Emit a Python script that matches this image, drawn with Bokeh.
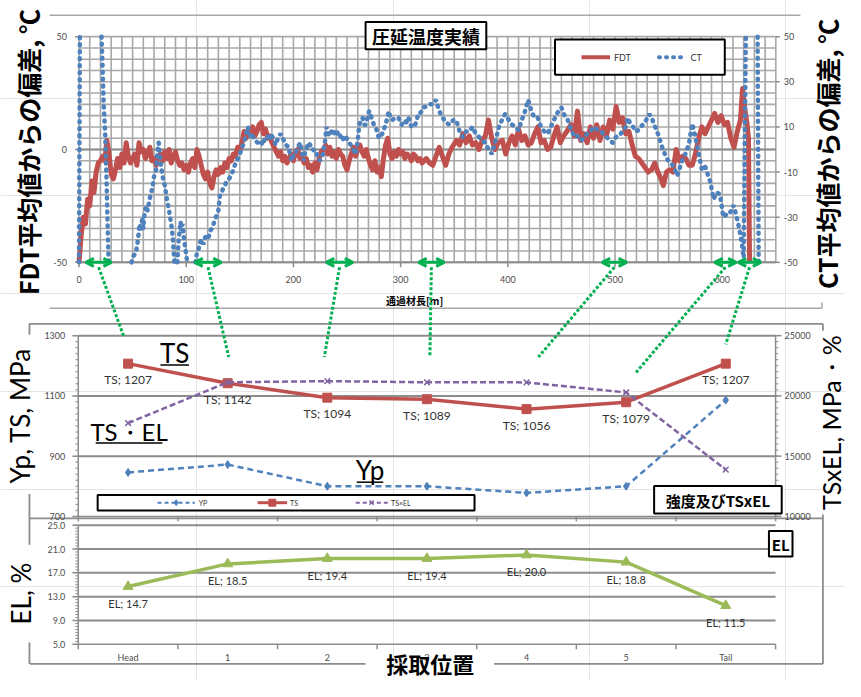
import math
from bokeh.plotting import figure
from bokeh.models import Range1d, Arrow, OpenHead
from bokeh.core.properties import value
from bokeh.embed import file_html
from bokeh.resources import INLINE

NaN = float("nan")

# ---------------- data ----------------
FDT_M = [0, 2, 4, 6, 8, 10, 12, 14, 16, 18, 20, 22, 24, 26, 28, 30, 32, 34, 36, 38, 40, 42, 44, 46, 48,
         50, 52, 54, 56, 58, 60, 62, 64, 66, 68, 70, 72, 74, 76, 78, 80, 82, 84, 86, 88, 90, 92, 94, 96, 98,
         100, 102, 104, 106, 108, 110, 112, 114, 116, 118, 120, 122, 124, 126, 128, 130, 132, 134, 136, 138,
         140, 142, 144, 146, 148, 150, 152, 154, 156, 158, 160, 162, 164, 166, 168, 170, 172, 174, 176, 178,
         180, 182, 184, 186, 188, 190, 192, 194, 196, 198, 200, 202, 204, 206, 208, 210, 212, 214, 216, 218,
         220, 222, 224, 226, 228, 230, 232, 234, 236, 238, 240, 242, 244, 246, 248, 250, 252, 254, 256, 258,
         260, 262, 264, 266, 268, 270, 272, 274, 276, 278, 280, 282, 284, 286, 288, 290, 292, 294, 296, 298,
         300, 302, 304, 306, 308, 310, 312, 314, 316, 318, 320,
         322, 324, 327, 330, 333, 336, 339, 342, 345, 348, 352, 355, 358, 361, 364, 367, 370, 373, 376, 379,
         382, 385, 388, 391, 395, 398, 401, 404, 407, 410, 413, 416, 419, 422, 425, 428, 431, 434, 437, 440,
         443, 446, 449, 452, 455, 459, 462, 465, 468, 471, 474, 477, 480, 483, 486, 489, 492, 495, 498, 501,
         504, 507, 510, 513, 516, 519, 522, 525, 528, 531, 534, 537, 540, 543, 545, 548, 551, 554, 557, 560,
         563, 566, 569, 572, 575, 578, 581, 584, 587, 590, 593, 596, 599, 602, 605, 608, 611, 614, 617, 619,
         621, 623, 624.5, 625.5]
FDT_V = [-50, -38, -30, -33, -22, -25, -14, -19, -10, -6, -5, -3, -5, 4, -2, -11, -13, -9, -4, -8, -2, -6, 3, -3, -6,
         -4, -2, -7, 3, -1, 0, -4, -2, 1, -5, -4, -7, -3, -2, -5, -1, -4, 0, -6, -3, -1, -5, -7, -6, -9,
         -7, -10, -6, -4, -8, 0, -3, -7, -11, -13, -10, -15, -17, -12, -9, -11, -8, -10, -6, -8,
         -4, -5, -2, -3, 1, 0, 3, 8, 5, 9, 7, 10, 6, 8, 11, 12, 7, 9, 5, 6,
         3, 1, -1, -3, -1, -5, -3, -6, -4, -2, -5, -1, 0, -4, -3, -6, -4, -8, -7, -10,
         -6, -9, -4, -1, 0, 2, -2, 1, -3, -1, -4, 0, -2, -3, -7, -9, -5, -2, 1, -3,
         0, 2, -1, -3, 0, -4, -7, -9, -5, -10, -8, -12, -4, 2, 5, -2, -4, -1, -3, 0,
         -2, -1, -4, -2, -3, -5, -2, -3, -5, -4, -6,
         -5, -4, -6, -7, -3, 1, -3, -7, -2, 1, 4, 2, 7, 3, 6, 2, 3, 0, 4, 6,
         13, 5, 0, 3, 4, -2, 3, 6, 2, 9, 4, 6, 2, 3, 7, 10, 3, 4, 0, 1,
         6, 10, 3, 6, 8, 11, 6, 17, 4, 7, 3, 10, 5, 11, 4, 10, 6, 13, 9, 19,
         12, 14, 7, 8, 2, -3, -4, -6, -8, -10, -9, -6, -10, -13, -16, -10, -9, -10, 0, -5,
         -3, -4, -7, -7, -2, 5, 10, 7, 10, 13, 16, 12, 15, 11, 12, 5, 1, 8, 13, 27,
         18, 12, 5, -50]

CT_M = [0, 0.8, NaN,
        21, 22, 23, 24.5, 25.5, 26.5, 27.5, 28, NaN,
        49, 51, 53, 55, 56.5, 58, 59, 60, 61, 62.7, 64, 65.8, 67, 68.8, 70, 71.9, 73, 74.3, 75.5, 76.5,
        78, 80, 82, 84, 86, 87.5, 88.7, 89, NaN,
        91.7, 93, 94.8, 95.5, 96.5, 98, 99.5, 101, NaN,
        108.6, 110, 111.6, 113, 114.7, 116, 117.7, 119, 120.8, 122.3, 123.9, 125.5, 126.9, 128.5, 130,
        131.5, 133, 134.6, 136, 137.6, 140, 142.2, 144, 145.3, 147, 148.3, 150, 151.4, 153, 154.4, 156,
        157.5, 159, 160.5, 162, 164, 166.7, 169, 171.3, 173.5, 175.8, 177.5, 178.9, 181, 183.5, 185.5,
        188, 190, 191, 193, 195.7, 197, 198.8, 200.3, 201.8, 204, 206.4, 208, 209.5, 211, 212.5, 214,
        215.6, 217, 218.7, 220, 221.7, 223, 224.8, 226, 227.8, 229.5, 230.9, 232.5, 234, 235.5, 237,
        238.5, 240, 241.5, 243, 244.5, 246, 247.5, 249, 250.5, 252, 253.5, 255, 256.5, 258, 260, 261.5,
        263, 264.5, 266, 267.6, 269, 270.6, 272, 273.7, 275, 276.8, 278.5, 279.8, 281.5, 282.9, 284.5,
        286, 287.5, 289, 290.5, 292, 295, 298, 301, 302.5, 304, 305.5, 307, 308.5, 310, 311.5, 313.5,
        315, 316.5, 318, 319.6, 321, 324, 327, 330, 333, 336, 339.5, 342, 345.6, 349, 352, 355, 358,
        361, 364, 367, 370, 373, 376, 379, 382, 385, 388, 391.7, 394.5, 397.5, 401, 404, 407, 410, 413,
        416, 419, 422, 425, 428, 431, 434, 437, 440, 443, 446, 450, 453, 456, 459, 462, 465, 468, 471,
        474, 477, 480, 483, 486, 489, 492, 495, 498, 501, 504, 507.6, 510, 512, 514.5, 517, 519, 521.6,
        524, 526, 529, 532, 535, 537.5, 540, 542, 544, 546.5, 549, 551.5, 554, 556, 558, 560.5, 563,
        566, 569, 572, 575, 578, 581, 584, 586.5, 589, 592, 595, 598, 601, 603.5, 606, 608.5, 610.6,
        613, 615, 618, 620, 622, NaN,
        633, 634]
CT_V = [-50, 50, NaN,
        50, 36, 20, 6, -10, -30, -48, -50, NaN,
        -50, -47, -46, -40, -33, -36, -30, -35, -29, -25, -27, -22, -20, -16, -12, -9, -2, 3, -3, -7,
        -12, -16, -22, -27, -33, -39, -48, -50, NaN,
        -50, -40, -32, -36, -33, -40, -45, -50, NaN,
        -50, -46, -44, -41, -40, -42, -39, -38, -39, -36, -35, -33, -31, -29, -27,
        -20, -19, -17, -16, -14, -13, -11, -9, -7, -5, -4, -2, 0, 2, 4, 7,
        10, 7, 5, 6, 4, 3, 4, 2, 5, 6, 4, 7, 5, 2, 5,
        7, 5, 4, 2, 1, -3, -5, -2, -2, 1, 3, -1, -5, -1, 1, 3,
        2, 0, 0, -2, -2, -4, -5, -3, -2, 4, 10, 7, 6, 8, 9,
        7, 6, 8, 7, 5, 4, 6, 6, 4, 3, 2, 1, -1, -2, 4, 11,
        13, 14, 11, 11, 14, 17, 15, 13, 11, 10, 7, 5, 6, 7, 9,
        11, 14, 17, 14, 13, 14, 14, 11, 12, 13, 12, 14, 13, 10, 11, 11,
        13, 16, 16, 17, 18.6, 19, 20, 20, 22, 17, 14, 12, 11, 13, 13, 8, 5.6,
        8, 8, 10, 7, 5.6, 4, 3, 0, -2, 3, 10, 13, 15.7, 13, 11, 10, 8.5, 13,
        17, 22, 17, 14, 14, 10, 8, 7, 10, 13, 16, 18.6, 15, 13, 9, 5.6, 6, 4, 5,
        7, 8, 10, 9, 8.5, 7, 5.6, 4, 3, 5.6, 6, 8.5, 10, 14, 11, 10, 8, 8.5,
        10, 11, 13, 15.7, 13, 10, 7, 4, 1, -2, -4.5, -6, -7, -9, -11.7, -8, -4.5,
        -1.6, 2.7, 11.4, 5.6, -1.6, -8.8, -7.4, -11, -14.5, -22, -19, -20, -30, -29, -29, -27, -24.7,
        -29, -33, -40.5, -48, 50, NaN,
        50, -50]

SAMPLE_START = [6.4, 108, 230.7, 316.8, 488, 593, 615]      # sampling zones on the strip, m
SAMPLE_END = [30.2, 132.7, 255.4, 340.6, 510.8, 613, 636]

CATEGORIES = ["Head", "1", "2", "3", "4", "5", "Tail"]
YP = [846, 872, 800, 800, 778, 800, 1086]
TS = [1207, 1142, 1094, 1089, 1056, 1079, 1207]
TSEL = [17743, 21127, 21224, 21127, 21120, 20285, 13881]
EL = [14.7, 18.5, 19.4, 19.4, 20.0, 18.8, 11.5]

TOP_LEFT_TICKS = [50, 0, -50]
TOP_RIGHT_TICKS = [50, 30, 10, -10, -30, -50]
TOP_X_TICKS = [0, 100, 200, 300, 400, 500, 600]
MPA_TICKS = [1300, 1100, 900, 700]
TSEL_TICKS = [25000, 20000, 15000, 10000]
EL_TICKS = [25.0, 21.0, 17.0, 13.0, 9.0, 5.0]

# ---------------- layout (reference pixel frame, scaled to the canvas) ----------------
W, H = 845, 681
XL, XR = 0, 861
YB, YT = 697, 0

RED = "#c0504d"
BLUE = "#4f81bd"
GREEN = "#9bbb59"
PURPLE = "#8064a2"
CONN = "#00b050"
GRID = "#a8a8a8"
AXIS = "#8c8c8c"
TICKC = "#4d4d4d"
LAT = value("Lato")
JP = value("Noto Sans CJK JP")


def lin_range(va, pa, vb, pb, plo, phi):
    k = (vb - va) / (pb - pa)
    return Range1d(start=va + (plo - pa) * k, end=va + (phi - pa) * k)


p = figure(width=W, height=H, x_range=Range1d(XL, XR), y_range=Range1d(YB, YT),
           x_axis_location=None, y_axis_location=None, toolbar_location=None,
           output_backend="svg", min_border=0, title=None)
p.outline_line_color = None
p.background_fill_color = "white"
p.border_fill_color = "white"

# panel geometry in reference pixels
LEN_PX = (80, 790)      # 0 m .. 650 m
DEV_PX = (37, 268)      # +50 .. -50
CAT_PX = (130, 739)     # Head .. Tail
MPA_PX = (343, 528)     # 1300 .. 700
EL_PX = (537, 659)      # 25 .. 5

p.extra_x_ranges = {
    "len": lin_range(0, LEN_PX[0], 650, LEN_PX[1], XL, XR),
    "cat": lin_range(0, CAT_PX[0], 6, CAT_PX[1], XL, XR),
}
p.extra_y_ranges = {
    "dev": lin_range(50, DEV_PX[0], -50, DEV_PX[1], YB, YT),
    "mpa": lin_range(1300, MPA_PX[0], 700, MPA_PX[1], YB, YT),
    "tsel": lin_range(25000, MPA_PX[0], 10000, MPA_PX[1], YB, YT),
    "el": lin_range(25, EL_PX[0], 5, EL_PX[1], YB, YT),
}

KLEN = (LEN_PX[1] - LEN_PX[0]) / 650.0
KDEV = (DEV_PX[1] - DEV_PX[0]) / 100.0
KCAT = (CAT_PX[1] - CAT_PX[0]) / 6.0
KMPA = (MPA_PX[1] - MPA_PX[0]) / 600.0
KTSE = (MPA_PX[1] - MPA_PX[0]) / 15000.0
KEL = (EL_PX[1] - EL_PX[0]) / 20.0


def px_len(m):
    return LEN_PX[0] + m * KLEN


def px_cat(i):
    return CAT_PX[0] + i * KCAT


def py_mpa(v):
    return MPA_PX[0] + (1300 - v) * KMPA


def txt(x, y, s, size, font=LAT, style="normal", color="black", align="center",
        baseline="middle", angle=0.0):
    p.text(x=[x], y=[y], text=[s], text_font=font, text_font_size=size,
           text_font_style=style, text_color=color, text_align=align,
           text_baseline=baseline, angle=angle)


# ---------------- outer borders ----------------
p.segment(x0=[50, 50, 837], y0=[15, 315, 309], x1=[815, 837, 837], y1=[15, 315, 315],
          line_color=GRID, line_width=1.5)
p.segment(x0=[29, 29.5, 29.5, 29.5, 838, 838, 30, 30, 503],
          y0=[331, 331, 505, 657, 331, 526, 530, 679, 679],
          x1=[838, 29.5, 29.5, 29.5, 838, 838, 838, 372, 838],
          y1=[331, 342, 557, 679, 338, 679, 530, 679, 679],
          line_color=AXIS, line_width=1.8)

# ---------------- top panel: grid ----------------
TR = dict(x_range_name="len", y_range_name="dev")
gx = [10 * i for i in range(66)]
p.segment(x0=gx, x1=gx, y0=[-50] * len(gx), y1=[50] * len(gx), line_color=GRID, line_width=1.6, **TR)
gy = [-50 + 5 * i for i in range(21)]
p.segment(x0=[0] * len(gy), x1=[650] * len(gy), y0=gy, y1=gy, line_color=GRID, line_width=1.6, **TR)
p.segment(x0=[0, 0], x1=[650, 650], y0=[0, -50], y1=[0, -50], line_color=AXIS, line_width=2, **TR)
# ticks
p.segment(x0=TOP_X_TICKS, x1=TOP_X_TICKS, y0=[-50] * 7, y1=[-50 - 5 / KDEV] * 7,
          line_color=AXIS, line_width=1.5, **TR)
p.segment(x0=[0] * 3, x1=[-4 / KLEN] * 3, y0=TOP_LEFT_TICKS, y1=TOP_LEFT_TICKS,
          line_color=AXIS, line_width=1.5, **TR)
p.segment(x0=[650] * 6, x1=[650 + 4 / KLEN] * 6, y0=TOP_RIGHT_TICKS, y1=TOP_RIGHT_TICKS,
          line_color=AXIS, line_width=1.5, **TR)
p.text(x=[0] * 3, y=TOP_LEFT_TICKS, text=[str(v) for v in TOP_LEFT_TICKS], x_offset=-12,
       text_align="right", text_baseline="middle", text_font=LAT, text_font_size="9px",
       text_color=TICKC, **TR)
p.text(x=[650] * 6, y=TOP_RIGHT_TICKS, text=[str(v) for v in TOP_RIGHT_TICKS], x_offset=8,
       text_align="left", text_baseline="middle", text_font=LAT, text_font_size="9px",
       text_color=TICKC, **TR)
p.text(x=TOP_X_TICKS, y=[-50] * 7, text=[str(v) for v in TOP_X_TICKS], y_offset=17,
       text_align="center", text_baseline="middle", text_font=LAT, text_font_size="9px",
       text_color=TICKC, **TR)

# series
p.line(FDT_M, FDT_V, line_color=RED, line_width=5, line_join="round", **TR)
p.line(CT_M, CT_V, line_color=BLUE, line_width=4.5, line_dash="1 6", line_cap="round", **TR)

# sample arrows
for a, b in zip(SAMPLE_START, SAMPLE_END):
    p.add_layout(Arrow(x_start=a, y_start=-50, x_end=b, y_end=-50,
                       start=OpenHead(size=8, line_color=CONN, line_width=3),
                       end=OpenHead(size=8, line_color=CONN, line_width=3),
                       line_color=CONN, line_width=3, **TR))

# title and legend of the top panel
p.quad(left=[372], right=[495], top=[22], bottom=[50], fill_color="white", line_color="black", line_width=2)
txt(433.5, 36.5, "圧延温度実績", "18px", font=JP, style="bold")
p.quad(left=[565], right=[738], top=[40], bottom=[76], fill_color="white", line_color="black", line_width=2)
p.line([592, 621], [58, 58], line_color=RED, line_width=4)
txt(625, 58, "FDT", "9px", align="left", color="#333333")
p.line([671, 698], [58, 58], line_color=BLUE, line_width=4, line_dash="1 6", line_cap="round")
txt(703, 58, "CT", "9px", align="left", color="#333333")

txt(422, 307, "通過材長[m]", "10px", font=JP, style="bold")
txt(28, 155, "FDT平均値からの偏差, ℃", "25px", font=JP, style="bold", angle=math.pi / 2)
txt(842, 157, "CT平均値からの偏差, ℃", "25px", font=JP, style="bold", angle=math.pi / 2)

# ---------------- middle panel ----------------
MR = dict(x_range_name="cat", y_range_name="mpa")
SR = dict(x_range_name="cat", y_range_name="tsel")
p.segment(x0=[-0.5] * 3, x1=[6.5] * 3, y0=MPA_TICKS[:3], y1=MPA_TICKS[:3], line_color=AXIS,
          line_width=2, **MR)
p.segment(x0=[-0.5, -0.5, 6.5], x1=[6.5, -0.5, 6.5], y0=[700, 700, 700], y1=[700, 1300, 1300],
          line_color=AXIS, line_width=1.5, **MR)
minor_mpa = [700 + 20 * i for i in range(31)]
p.segment(x0=[-0.5] * 31, x1=[-0.5 - 3 / KCAT] * 31, y0=minor_mpa, y1=minor_mpa, line_color=AXIS,
          line_width=1, **MR)
p.segment(x0=[-0.5] * 4, x1=[-0.5 - 6 / KCAT] * 4, y0=MPA_TICKS, y1=MPA_TICKS, line_color=AXIS,
          line_width=1.5, **MR)
minor_tse = [10000 + 500 * i for i in range(31)]
p.segment(x0=[6.5] * 31, x1=[6.5 + 3 / KCAT] * 31, y0=minor_tse, y1=minor_tse, line_color=AXIS,
          line_width=1, **SR)
p.segment(x0=[6.5] * 4, x1=[6.5 + 6 / KCAT] * 4, y0=TSEL_TICKS, y1=TSEL_TICKS, line_color=AXIS,
          line_width=1.5, **SR)
bnd = [i - 0.5 for i in range(8)]
p.segment(x0=bnd, x1=bnd, y0=[700] * 8, y1=[700 - 5 / KMPA] * 8, line_color=AXIS, line_width=1.5, **MR)
p.text(x=[-0.5] * 4, y=MPA_TICKS, text=[str(v) for v in MPA_TICKS], x_offset=-13, text_align="right",
       text_baseline="middle", text_font=LAT, text_font_size="9px", text_color=TICKC, **MR)
p.text(x=[6.5] * 4, y=TSEL_TICKS, text=[str(v) for v in TSEL_TICKS], x_offset=9, text_align="left",
       text_baseline="middle", text_font=LAT, text_font_size="9px", text_color=TICKC, **SR)

xs = list(range(7))
p.line(xs, YP, line_color=BLUE, line_width=2.5, line_dash="6 4", **MR)
p.scatter(xs, YP, marker="diamond", size=8, fill_color=BLUE, line_color=BLUE, **MR)
p.line(xs, TS, line_color=RED, line_width=3.5, **MR)
p.scatter(xs, TS, marker="square", size=9, fill_color=RED, line_color=RED, **MR)
p.line(xs, TSEL, line_color=PURPLE, line_width=2.5, line_dash="6 3", **SR)
p.scatter(xs, TSEL, marker="x", size=8, line_color=PURPLE, line_width=1.5, **SR)
p.text(x=xs, y=TS, text=["TS; %d" % v for v in TS], y_offset=16, text_align="center",
       text_baseline="middle", text_font=LAT, text_font_size="12px", text_color="#333333", **MR)

# annotations in middle panel
txt(177.5, 361, "TS", "26px")
txt(131, 441, "TS・EL", "24px")
txt(376.5, 481, "Yp", "26px")
p.segment(x0=[163, 97, 363], x1=[192, 165, 390], y0=[373, 453, 493], y1=[373, 453, 493],
          line_color="black", line_width=1.5)

p.quad(left=[99], right=[483], top=[506], bottom=[522], fill_color="white", line_color="black", line_width=2)
p.line([160, 198], [514, 514], line_color=BLUE, line_width=2, line_dash="4 3")
p.scatter([179], [514], marker="diamond", size=6, fill_color=BLUE, line_color=BLUE)
txt(202, 514, "YP", "7px", align="left", color="#333333")
p.line([262, 292], [514, 514], line_color=RED, line_width=3)
p.scatter([277], [514], marker="square", size=7, fill_color=RED, line_color=RED)
txt(295, 514, "TS", "7px", align="left", color="#333333")
p.line([362, 395], [514, 514], line_color=PURPLE, line_width=2, line_dash="4 3")
p.scatter([378], [514], marker="x", size=6, line_color=PURPLE, line_width=1.5)
txt(398, 514, "TS×EL", "7px", align="left", color="#333333")

p.quad(left=[666], right=[796], top=[497], bottom=[525], fill_color="white", line_color="black", line_width=2)
txt(731, 511.5, "強度及びTSxEL", "15px", font=JP, style="bold")

txt(20, 425, "Yp, TS, MPa", "26px", angle=math.pi / 2)
txt(846, 432, "TSxEL, MPa・%", "25px", angle=math.pi / 2)

# ---------------- bottom panel ----------------
ER = dict(x_range_name="cat", y_range_name="el")
p.segment(x0=[-0.5] * 5, x1=[6.5] * 5, y0=EL_TICKS[:5], y1=EL_TICKS[:5], line_color=AXIS, line_width=2, **ER)
p.segment(x0=[-0.5, -0.5], x1=[6.5, -0.5], y0=[5, 5], y1=[5, 25], line_color=AXIS, line_width=1.5, **ER)
minor_el = [5 + 0.5 * i for i in range(41)]
p.segment(x0=[-0.5] * 41, x1=[-0.5 - 3 / KCAT] * 41, y0=minor_el, y1=minor_el, line_color=AXIS,
          line_width=1, **ER)
p.segment(x0=[-0.5] * 6, x1=[-0.5 - 6 / KCAT] * 6, y0=EL_TICKS, y1=EL_TICKS, line_color=AXIS,
          line_width=1.5, **ER)
p.segment(x0=bnd, x1=bnd, y0=[5] * 8, y1=[5 - 5 / KEL] * 8, line_color=AXIS, line_width=1.5, **ER)
p.text(x=[-0.5] * 6, y=EL_TICKS, text=["%.1f" % v for v in EL_TICKS], x_offset=-13, text_align="right",
       text_baseline="middle", text_font=LAT, text_font_size="9px", text_color=TICKC, **ER)
p.text(x=xs, y=[5] * 7, text=CATEGORIES, y_offset=13, text_align="center", text_baseline="middle",
       text_font=LAT, text_font_size="9px", text_color=TICKC, **ER)

p.line(xs, EL, line_color=GREEN, line_width=3.5, **ER)
p.scatter(xs, EL, marker="triangle", size=10, fill_color=GREEN, line_color=GREEN, **ER)
p.text(x=xs, y=EL, text=["EL; %.1f" % v for v in EL], y_offset=17, text_align="center",
       text_baseline="middle", text_font=LAT, text_font_size="11px", text_color="#333333", **ER)

p.quad(left=[783], right=[807], top=[543], bottom=[569], fill_color="white", line_color="black", line_width=2)
txt(795, 556.5, "EL", "15px", font=JP, style="bold")

txt(21, 607, "EL, %", "26px", angle=math.pi / 2)
txt(438, 678, "採取位置", "22px", font=JP, style="bold")

# ---------------- connectors from strip zones to sample positions ----------------
CONN_END_CAT = [-0.04, 1.01, 1.97, 3.03, 4.12, 5.09, 6.0]
CONN_END_MPA = [1294, 1229, 1229, 1235, 1229, 1174, 1271]
cx0 = [px_len((a + b) / 2) for a, b in zip(SAMPLE_START, SAMPLE_END)]
cy0 = [273] * 7
cx1 = [px_cat(c) for c in CONN_END_CAT]
cy1 = [py_mpa(v) for v in CONN_END_MPA]
p.segment(x0=cx0, y0=cy0, x1=cx1, y1=cy1, line_color=CONN, line_width=3, line_dash="3 2")

open("out.html", "w").write(file_html(p, INLINE))
